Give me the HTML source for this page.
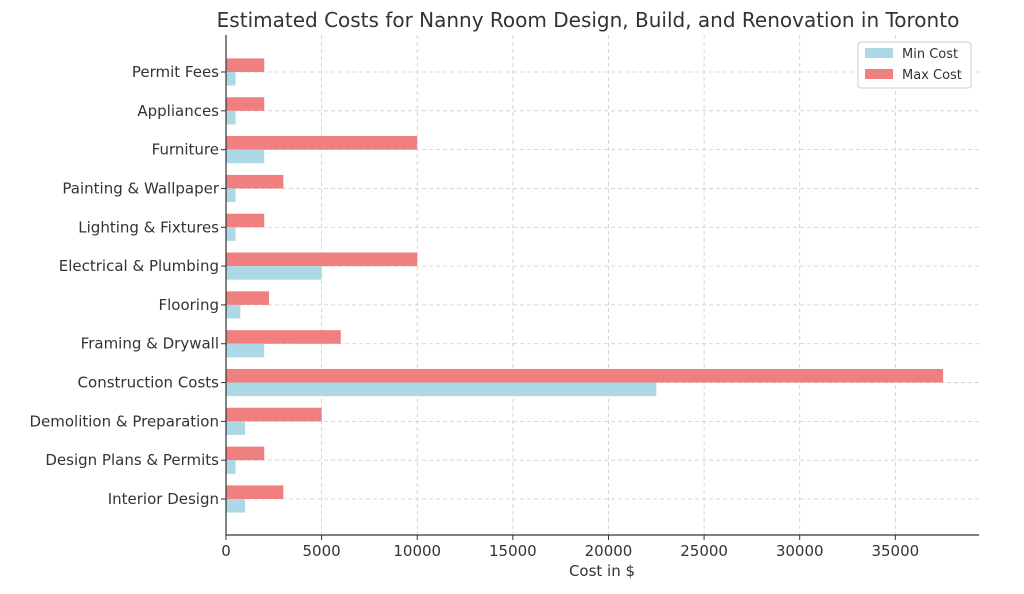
<!DOCTYPE html>
<html><head><meta charset="utf-8"><style>
html,body{margin:0;padding:0;background:#fff;}
svg text{font-family:"DejaVu Sans","Liberation Sans",sans-serif;fill:#333;}
</style></head><body>
<svg id="chart" width="1024" height="589" viewBox="0 0 1024 589" xmlns="http://www.w3.org/2000/svg">
<text x="588" y="27" font-size="20" text-anchor="middle">Estimated Costs for Nanny Room Design, Build, and Renovation in Toronto</text>
<g id="grid"></g><g id="bars"></g><g id="axes"></g>
<text x="602" y="576" font-size="15" text-anchor="middle">Cost in $</text>
<g>
<rect x="858" y="42" width="113" height="46" fill="#fff" stroke="#ccc" rx="3"/>
<g><rect x="865" y="48" width="28" height="10" fill="#add8e6"/><text x="902" y="58" font-size="13">Min Cost</text></g>
<g><rect x="865" y="69" width="28" height="10" fill="#f08080"/><text x="902" y="79" font-size="13">Max Cost</text></g>
</g>
</svg>
<script>
const categories=["Interior Design","Design Plans & Permits","Demolition & Preparation","Construction Costs","Framing & Drywall","Flooring","Electrical & Plumbing","Lighting & Fixtures","Painting & Wallpaper","Furniture","Appliances","Permit Fees"];
const minCost=[1000,500,1000,22500,2000,750,5000,500,500,2000,500,500];
const maxCost=[3000,2000,5000,37500,6000,2250,10000,2000,3000,10000,2000,2000];
const xTicks=[0,5000,10000,15000,20000,25000,30000,35000];
const NS="http://www.w3.org/2000/svg";
const L=226,R=979,T=35,B=535;
const xMax=Math.max(...maxCost)*1.05;
const x=v=>L+v/xMax*(R-L);
const y=i=>499-i*(499-72)/11;
const unit=(499-72)/11;
function mk(tag,attrs,parent){const e=document.createElementNS(NS,tag);for(const k in attrs)e.setAttribute(k,attrs[k]);parent.appendChild(e);return e;}
const grid=document.getElementById('grid'),bars=document.getElementById('bars'),axes=document.getElementById('axes');
xTicks.forEach(t=>{
 const g=mk('line',{x1:x(t),x2:x(t),y1:T,y2:B,stroke:'#ccc','stroke-dasharray':'4,3','stroke-width':0.8},grid);
 
 
 mk('line',{x1:x(t),x2:x(t),y1:B,y2:B+5,stroke:'#333'},axes);
 const tx=mk('text',{x:x(t),y:B+21,'font-size':15,'text-anchor':'middle'},axes);tx.textContent=t;
 
 
});
categories.forEach((c,i)=>{
 const g=mk('line',{x1:L,x2:R,y1:y(i),y2:y(i),stroke:'#ccc','stroke-dasharray':'4,3','stroke-width':0.8},grid);
 
 
 const h=unit*0.35;
 const b1=mk('rect',{x:L,y:y(i)-h,width:x(maxCost[i])-L,height:h,fill:'#f08080'},bars);
 
 
 const b2=mk('rect',{x:L,y:y(i),width:x(minCost[i])-L,height:h,fill:'#add8e6'},bars);
 
 
 mk('line',{x1:L-5,x2:L,y1:y(i),y2:y(i),stroke:'#333'},axes);
 const tx=mk('text',{x:L-7,y:y(i)+5,'font-size':15,'text-anchor':'end'},axes);tx.textContent=c;
 
 
});
mk('line',{x1:L,x2:L,y1:T,y2:B,stroke:'#333','stroke-width':1.2},axes);
mk('line',{x1:L,x2:R,y1:B,y2:B,stroke:'#333','stroke-width':1.2},axes);
</script>
</body></html>
